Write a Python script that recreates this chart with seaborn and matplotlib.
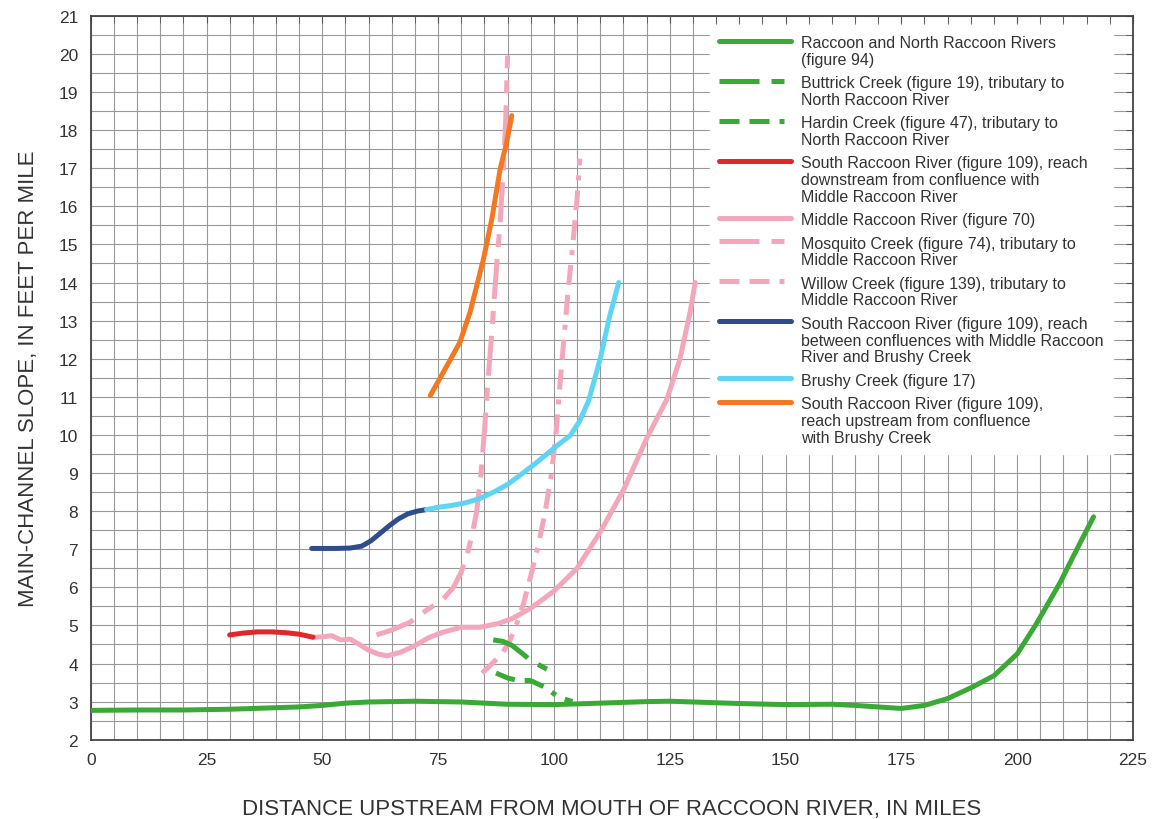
import matplotlib
matplotlib.use('Agg')
import matplotlib.pyplot as plt
from matplotlib.ticker import MultipleLocator
import seaborn as sns

# distances (miles) and slopes (ft/mi)
raccoon_x = [0, 10, 20, 30, 40, 45, 50, 55, 60, 70, 80, 90, 100, 110, 120, 125, 130, 140,
             150, 160, 165, 170, 175, 180, 185, 190, 195, 200, 204.2, 209.3, 212.9, 216.5]
raccoon_y = [2.77, 2.78, 2.78, 2.8, 2.84, 2.86, 2.9, 2.96, 2.99, 3.01, 2.99, 2.93, 2.92, 2.96,
             3.0, 3.01, 2.99, 2.95, 2.92, 2.93, 2.9, 2.86, 2.82, 2.9, 3.08, 3.36, 3.68, 4.25,
             5.05, 6.13, 7.0, 7.85]

buttrick_x = [86.9, 89, 91, 93, 95, 98.5]
buttrick_y = [4.62, 4.58, 4.47, 4.28, 4.08, 3.85]

hardin_x = [87.5, 90, 92, 95, 98, 101, 104]
hardin_y = [3.75, 3.62, 3.56, 3.55, 3.38, 3.12, 3.0]

south_down_x = [30, 33, 36, 39, 42, 45, 48]
south_down_y = [4.75, 4.8, 4.83, 4.83, 4.81, 4.77, 4.69]

middle_x = [48, 50, 52, 54, 56, 58, 60, 62, 64, 67, 70, 73, 76, 80, 84, 88, 91, 95, 100,
            105, 110, 115, 120, 124.4, 127.2, 129.4, 130.5]
middle_y = [4.69, 4.7, 4.73, 4.62, 4.64, 4.5, 4.35, 4.25, 4.2, 4.3, 4.47, 4.68, 4.82, 4.95,
            4.95, 5.05, 5.18, 5.45, 5.9, 6.5, 7.45, 8.55, 9.9, 10.94, 11.99, 13.22, 14.0]

mosquito_x = [61.7, 65, 68.9, 71.8, 76.1, 78.3, 80, 81.2, 82.3, 83.3, 84.2, 85, 85.8, 86.6,
              87.3, 88.4, 89.1, 89.6, 90.0]
mosquito_y = [4.75, 4.88, 5.08, 5.34, 5.69, 6.0, 6.4, 6.83, 7.35, 7.97, 8.9, 10.1, 11.47,
              12.7, 13.9, 15.6, 17.0, 18.3, 19.95]

willow_x = [84.5, 86, 87.5, 89, 90.5, 92, 93.5, 95, 96.5, 98, 99.5, 100.5, 101, 102, 103,
            104, 105, 105.6]
willow_y = [3.75, 3.92, 4.1, 4.3, 4.6, 5.05, 5.6, 6.3, 7.05, 7.9, 9.0, 10.1, 10.9, 12.3,
            13.7, 14.9, 16.2, 17.25]

south_mid_x = [47.7, 50, 53, 56, 58.5, 60.5, 62.5, 64.5, 66.5, 68.5, 70.5, 72.5]
south_mid_y = [7.02, 7.02, 7.02, 7.03, 7.08, 7.22, 7.42, 7.62, 7.8, 7.93, 8.0, 8.04]

brushy_x = [72.5, 75, 78, 81, 84, 87, 90, 93, 96, 99, 101, 103.5, 105.5, 107.5, 110, 112, 114]
brushy_y = [8.04, 8.1, 8.15, 8.22, 8.33, 8.5, 8.7, 8.97, 9.25, 9.55, 9.75, 9.98, 10.35,
            10.9, 12.0, 13.1, 14.0]

south_up_x = [73.3, 76.1, 79.7, 81.9, 84.8, 86.6, 88.4, 89.8, 90.9]
south_up_y = [11.03, 11.64, 12.43, 13.22, 14.62, 15.67, 16.98, 17.68, 18.38]

labels = [
    'Raccoon and North Raccoon Rivers\n(figure 94)',
    'Buttrick Creek (figure 19), tributary to\nNorth Raccoon River',
    'Hardin Creek (figure 47), tributary to\nNorth Raccoon River',
    'South Raccoon River (figure 109), reach\ndownstream from confluence with\nMiddle Raccoon River',
    'Middle Raccoon River (figure 70)',
    'Mosquito Creek (figure 74), tributary to\nMiddle Raccoon River',
    'Willow Creek (figure 139), tributary to\nMiddle Raccoon River',
    'South Raccoon River (figure 109), reach\nbetween confluences with Middle Raccoon\nRiver and Brushy Creek',
    'Brushy Creek (figure 17)',
    'South Raccoon River (figure 109),\nreach upstream from confluence\nwith Brushy Creek',
]

green = '#3aa935'
pink = '#f4a6bb'
long_short = (0, (8, 2.4, 2.6, 2.4))
dash_dot = (0, (4, 2, 4, 2, 1, 2))

series = [
    (raccoon_x, raccoon_y, green, '-', 3),
    (buttrick_x, buttrick_y, green, long_short, 3),
    (hardin_x, hardin_y, green, dash_dot, 3),
    (south_down_x, south_down_y, '#e2262a', '-', 3),
    (middle_x, middle_y, pink, '-', 2),
    (mosquito_x, mosquito_y, pink, long_short, 2),
    (willow_x, willow_y, pink, dash_dot, 2),
    (south_mid_x, south_mid_y, '#2f4c8c', '-', 3),
    (brushy_x, brushy_y, '#5fd4f4', '-', 3),
    (south_up_x, south_up_y, '#f47721', '-', 3),
]

sns.set_style('white')
plt.rcParams['font.family'] = ['Liberation Sans', 'DejaVu Sans']

fig = plt.figure(figsize=(11.57, 8.2), dpi=100)
ax = fig.add_axes([0.0784, 0.0967, 0.9008, 0.8828])

for (xs, ys, col, ls, z), lab in zip(series, labels):
    sns.lineplot(x=xs, y=ys, sort=False, estimator=None, color=col, linestyle=ls,
                 lw=3.6, zorder=z, label=lab, solid_joinstyle='round',
                 solid_capstyle='round', ax=ax)

ax.set_xlim(0, 225)
ax.set_ylim(2, 21)
ax.xaxis.set_major_locator(MultipleLocator(25))
ax.xaxis.set_minor_locator(MultipleLocator(5))
ax.yaxis.set_major_locator(MultipleLocator(1))
ax.yaxis.set_minor_locator(MultipleLocator(0.5))
ax.grid(which='both', color='#999999', lw=0.8)
ax.set_axisbelow(True)
ax.tick_params(which='both', direction='in', top=True, right=True, length=5,
               color='#555555', labelsize=12.5, pad=9, labelcolor='#333333')
for sp in ax.spines.values():
    sp.set_color('#444444')
    sp.set_linewidth(1.3)

ax.set_xlabel('DISTANCE UPSTREAM FROM MOUTH OF RACCOON RIVER, IN MILES',
              fontsize=16, color='#333333', labelpad=22)
ax.set_ylabel('MAIN-CHANNEL SLOPE, IN FEET PER MILE', fontsize=16, color='#333333',
              labelpad=14)

leg = ax.legend(loc='upper right', fontsize=11.5, handlelength=4.5, handletextpad=0.6,
                labelspacing=0.52, borderaxespad=0.6, borderpad=0.6, frameon=True,
                fancybox=False, facecolor='white', edgecolor='white', framealpha=1,
                bbox_to_anchor=(0.99, 1.0))
for t in leg.get_texts():
    t.set_linespacing(1.15)
    t.set_color('#333333')
# key lines sit beside the first line of each label, as in the original
try:
    for col_box in leg._legend_handle_box.get_children():
        for row in col_box.get_children():
            row.align = 'top'
except AttributeError:
    pass

fig.savefig('out.png', dpi=100)
